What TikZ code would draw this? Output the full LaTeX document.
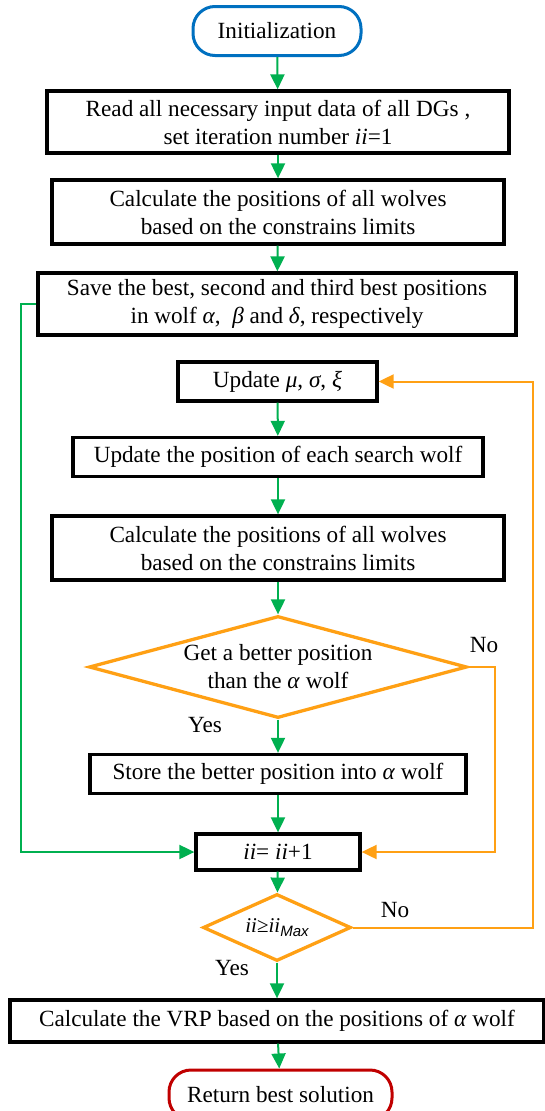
\documentclass[tikz,border=0pt]{standalone}
\usepackage{fontspec}
\setmainfont{Liberation Serif}
\newfontfamily\subsans{Liberation Sans}
\usetikzlibrary{shapes.geometric,arrows.meta}
\definecolor{flowgreen}{RGB}{0,176,80}
\definecolor{floworange}{RGB}{255,160,20}
\definecolor{flowblue}{RGB}{0,112,192}
\definecolor{flowred}{RGB}{192,0,0}
\newcommand{\itv}[1]{\textit{#1}}
\begin{document}
\begin{tikzpicture}[x=1pt,y=-1pt,
  every node/.style={font=\fontsize{23.2}{28}\selectfont, align=center, inner sep=0pt},
  procbox/.style={draw=black, line width=3.3pt, rectangle},
  terminal/.style={line width=3pt, rectangle, rounded corners=22pt},
  decision/.style={draw=floworange, line width=3.3pt, diamond},
  flow/.style={draw=flowgreen, line width=2pt, -{Triangle[length=15pt,width=14pt]}},
  back/.style={draw=floworange, line width=2pt, -{Triangle[length=15pt,width=14pt]}},
  lbl/.style={font=\fontsize{23.2}{28}\selectfont}]
\useasboundingbox (0,0) rectangle (545,1111);

% process steps
\node[terminal, draw=flowblue, minimum width=168pt, minimum height=49pt] (init) at (277,31) {Initialization};
\node[procbox, minimum width=462pt, minimum height=62pt] (read) at (278,122)
  {Read all necessary input data of all DGs ,\\ set iteration number \itv{ii}=1};
\node[procbox, minimum width=452pt, minimum height=64pt] (calcA) at (278,212)
  {Calculate the positions of all wolves\\ based on the constrains limits};
\node[procbox, minimum width=478pt, minimum height=62pt] (save) at (277,304)
  {Save the best, second and third best positions\\ in wolf \itv{α},\ \ \itv{β} and \itv{δ}, respectively};
\node[procbox, minimum width=199pt, minimum height=39pt] (upd) at (277.5,381.5)
  {Update \itv{μ}, \itv{σ}, \itv{ξ}};
\node[procbox, minimum width=410pt, minimum height=39pt] (pos) at (278,457)
  {Update the position of each search wolf};
\node[procbox, minimum width=452pt, minimum height=64pt] (calcB) at (278,548)
  {Calculate the positions of all wolves\\ based on the constrains limits};
\node[decision, shape aspect=3.7, minimum width=378pt, minimum height=102pt] (better) at (278,667)
  {Get a better position\\ than the \itv{α} wolf};
\node[procbox, minimum width=376pt, minimum height=39pt] (store) at (278,774)
  {Store the better position into \itv{α} wolf};
\node[procbox, minimum width=164pt, minimum height=36pt] (inc) at (278,852)
  {\itv{ii}= \itv{ii}+1};
\node[decision, shape aspect=2.2, minimum width=148pt, minimum height=67pt] (stop) at (277,927.5)
  {\fontsize{21}{24}\selectfont\itv{ii}≥\itv{ii}\raisebox{-0.35ex}{\fontsize{15}{15}\subsans\itshape Max}};
\node[procbox, minimum width=534pt, minimum height=42pt] (vrp) at (277,1021)
  {Calculate the VRP based on the positions of \itv{α} wolf};
\node[terminal, draw=flowred, minimum width=223pt, minimum height=50pt] (ret) at (280.5,1095)
  {Return best solution};

% decision labels
\node[lbl] (no1) at (484,645) {No};
\node[lbl] (yes1) at (205,725) {Yes};
\node[lbl] (no2) at (395,910) {No};
\node[lbl] (yes2) at (232,968) {Yes};

% routing points of the loops
\coordinate (gleft) at (21,0);
\coordinate (oinner) at (495,0);
\coordinate (oouter) at (533,0);

% main flow
\draw[flow] (init) -- (read);
\draw[flow] (read) -- (calcA);
\draw[flow] (calcA) -- (save);
\draw[flow] (upd) -- (pos);
\draw[flow] (pos) -- (calcB);
\draw[flow] (calcB) -- (better);
\draw[flow] (better) -- (store);
\draw[flow] (store) -- (inc);
\draw[flow] (inc) -- (stop);
\draw[flow] (stop) -- (vrp);
\draw[flow] (vrp) -- (ret);

% loops
\draw[flow] (save.west) -- (save.west -| gleft) -- (gleft |- inc.west) -- (inc.west);
\draw[back] (better.east) -- (better.east -| oinner) -- (oinner |- inc.east) -- (inc.east);
\draw[back] (stop.east) -- (stop.east -| oouter) -- (oouter |- upd.east) -- (upd.east);
\end{tikzpicture}
\end{document}
